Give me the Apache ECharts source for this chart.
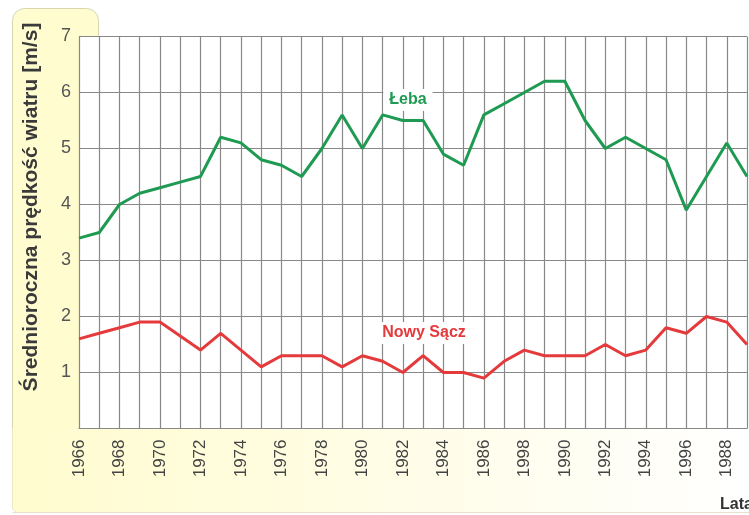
<!DOCTYPE html>
<html><head><meta charset="utf-8">
<script src="https://cdn.jsdelivr.net/npm/echarts@6/dist/echarts.min.js"></script>
<style>html,body{margin:0;padding:0;background:#fff}#c{width:749px;height:515px}</style>
</head><body><div id="c"></div>
<script>
const years = ['1966','1967','1968','1969','1970','1971','1972','1973','1974','1975','1976','1977','1978','1979','1980','1981','1982','1983','1984','1985','1986','1987','1988','1989','1990','1991','1992','1993','1994','1995','1996','1997','1998','1999'];
const tickLabels = ['1966','1968','1970','1972','1974','1976','1978','1980','1982','1984','1986','1998','1990','1992','1994','1996','1988'];
const leba = [3.4,3.5,4.0,4.2,4.3,4.4,4.5,5.2,5.1,4.8,4.7,4.5,5.0,5.6,5.0,5.6,5.5,5.5,4.9,4.7,5.6,5.8,6.0,6.2,6.2,5.5,5.0,5.2,5.0,4.8,3.9,4.5,5.1,4.5];
const nowySacz = [1.6,1.7,1.8,1.9,1.9,1.65,1.4,1.7,1.4,1.1,1.3,1.3,1.3,1.1,1.3,1.2,1.0,1.3,1.0,1.0,0.9,1.2,1.4,1.3,1.3,1.3,1.5,1.3,1.4,1.8,1.7,2.0,1.9,1.5];
const yTicks = ['','1','2','3','4','5','6','7'];

const chart = echarts.init(document.getElementById('c'), null, {renderer:'canvas'});
chart.setOption({
  animation:false,
  backgroundColor:'#fff',
  graphic:[
    {type:'rect', z:-10, shape:{x:12.5,y:8.5,width:86,height:504,r:[12,12,0,6]}, style:{fill:'#fffccf',stroke:'#d8d6b0',lineWidth:1}},
    {type:'rect', z:-10, shape:{x:12.5,y:428,width:740,height:84.5,r:[0,0,0,6]},
      style:{fill:new echarts.graphic.LinearGradient(0,0,1,0,[{offset:0,color:'#fffccf'},{offset:0.55,color:'#fffde8'},{offset:1,color:'#ffffff'}]),stroke:null}},
    {type:'line', z:-9, shape:{x1:12.5,y1:512.5,x2:749,y2:512.5}, style:{stroke:'#e4e2c8',lineWidth:1}},
    {type:'rect', z:-8, shape:{x:79,y:36,width:670,height:392}, style:{fill:'#ffffff'}},
    {type:'text', z:10, x:31, y:207, rotation:Math.PI/2,
      style:{text:'Średnioroczna prędkość wiatru [m/s]', font:'bold 21px "Liberation Sans", Arial, sans-serif', fill:'#3a3a3a', textAlign:'center', textVerticalAlign:'middle'}},
    {type:'text', z:10, x:408, y:100,
      style:{text:'Łeba', font:'bold 16px "Liberation Sans", Arial, sans-serif', fill:'#1e9a52', textAlign:'center', textVerticalAlign:'middle', backgroundColor:'#fff', padding:[3,6]}},
    {type:'text', z:10, x:424, y:333,
      style:{text:'Nowy Sącz', font:'bold 16px "Liberation Sans", Arial, sans-serif', fill:'#e53a3c', textAlign:'center', textVerticalAlign:'middle', backgroundColor:'#fff', padding:[3,6]}},
    {type:'text', z:10, x:720, y:505,
      style:{text:'Lata', font:'bold 16px "Liberation Sans", Arial, sans-serif', fill:'#333', textAlign:'left', textVerticalAlign:'middle'}}
  ],
  grid:{left:79, right:2, top:36.5, bottom:86.5, containLabel:false},
  xAxis:{
    type:'category', data:years, boundaryGap:false,
    axisLine:{lineStyle:{color:'#888',width:1}},
    axisTick:{show:false},
    axisLabel:{interval:0, rotate:90, margin:11, color:'#444', fontSize:17, fontFamily:'"Liberation Sans", Arial, sans-serif',
      formatter:function(v,i){ return i%2===0 ? tickLabels[i/2] : ''; }},
    splitLine:{show:true, interval:0, lineStyle:{color:'#888',width:1.2}}
  },
  yAxis:{
    type:'value', min:0, max:7, interval:1,
    axisLine:{show:true, lineStyle:{color:'#888'}},
    axisTick:{show:false},
    axisLabel:{margin:8, color:'#555', fontSize:18, fontFamily:'"Liberation Sans", Arial, sans-serif',
      formatter:function(v){ return yTicks[Math.round(v)]; }},
    splitLine:{lineStyle:{color:'#888',width:1.2}}
  },
  series:[
    {name:'Łeba', type:'line', data:leba, symbol:'none', lineStyle:{color:'#1e9a52',width:3}, z:5},
    {name:'Nowy Sącz', type:'line', data:nowySacz, symbol:'none', lineStyle:{color:'#e53a3c',width:3}, z:5}
  ]
});
</script></body></html>
